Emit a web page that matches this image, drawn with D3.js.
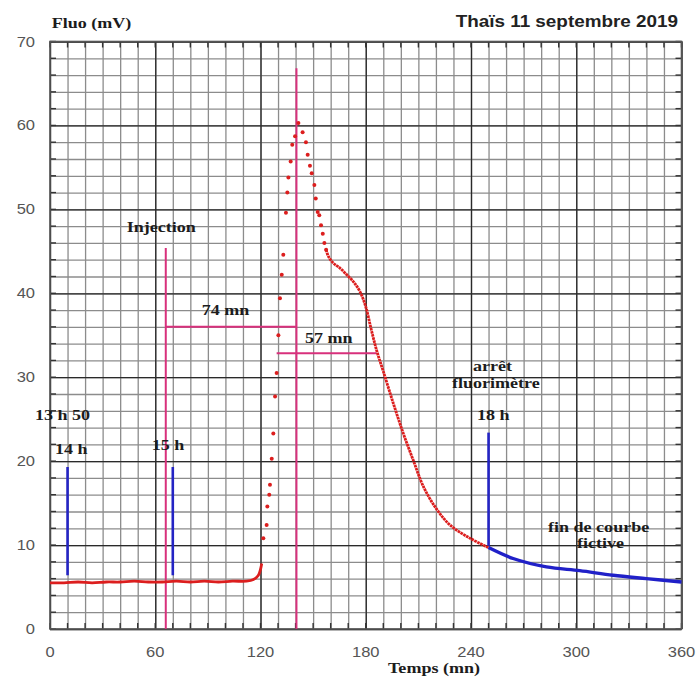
<!DOCTYPE html>
<html>
<head>
<meta charset="utf-8">
<script src="https://cdn.jsdelivr.net/npm/d3@7"></script>
<style>
  body { margin: 0; background: #fff; }
  .serif { font-family: "Liberation Serif", serif; font-weight: bold; font-size: 15.3px; fill: #1c1c1c; }
  .tick-label { font-family: "Liberation Sans", Arial, sans-serif; font-size: 14px; fill: #555; }
  .title { font-family: "Liberation Sans", Arial, sans-serif; font-weight: bold; font-size: 16px; fill: #222; }
  .grid line { stroke: #8c8c8c; stroke-width: 1.3; }
  .grid-major line { stroke: #2a2a2a; stroke-width: 1.3; }
  .grid path, .grid-major path { display: none; }
</style>
</head>
<body>
<div id="chart"></div>
<script>
// tick labels
const xTicks = [0, 60, 120, 180, 240, 300, 360];
const yTicks = [0, 10, 20, 30, 40, 50, 60, 70];

// baseline before the tracer arrives (mn, mV)
const baseTime = [0, 8, 16, 24, 32, 40, 48, 56, 64, 72, 80, 88, 96, 104, 112, 116, 118.8, 120.7];
const baseFluo = [5.5, 5.5, 5.6, 5.5, 5.6, 5.6, 5.7, 5.6, 5.6, 5.7, 5.6, 5.7, 5.6, 5.7, 5.7, 5.9, 6.4, 7.8];

// rise and peak, sparse points
const peakTime = [121.6, 123.5, 123.9, 125.0, 125.4, 126.4, 127.3, 128.3, 129.2, 130.2, 131.1, 132.1, 133.0,
  134.5, 135.3, 135.9, 137.2, 138.1, 139.7, 141.6, 144.0, 145.9, 146.9, 148.2, 149.2, 150.7, 151.5,
  152.6, 153.5, 154.5, 155.5, 156.4, 157.4];
const peakFluo = [10.8, 12.4, 14.6, 16.0, 17.2, 20.3, 23.3, 27.7, 30.5, 35.0, 39.4, 42.2, 44.6,
  49.6, 52.0, 53.8, 55.7, 57.7, 58.7, 60.3, 59.2, 58.0, 56.5, 55.2, 54.3, 52.9, 51.3,
  49.7, 49.3, 48.1, 47.1, 46.0, 45.2];

// recession, dense points
const tailTime = [157.4, 158.7, 161.5, 165.3, 169.2, 172.9, 176.7, 180.0, 183.0, 186.2, 190.0, 195.7,
  201.4, 207.1, 212.8, 220.0, 228.0, 239.5, 250.0];
const tailFluo = [45.2, 44.4, 43.6, 43.0, 42.2, 41.4, 40.2, 38.4, 35.8, 33.2, 30.7, 26.9,
  23.3, 20.1, 17.0, 14.4, 12.4, 10.8, 9.7];

// extrapolated end of curve
const fictiveTime = [250, 264, 283, 302, 321, 340, 360];
const fictiveFluo = [9.7, 8.4, 7.4, 6.95, 6.4, 6.0, 5.6];

// annotation lines, in data units
const magentaV = [{ t: 66, v0: 0, v1: 45.4 }, { t: 140.5, v0: 0, v1: 66.8 }];
const magentaH = [{ v: 36, t0: 66, t1: 140.5 }, { v: 32.85, t0: 129.2, t1: 186.2 }];
const blueV = [{ t: 10, v0: 6.4, v1: 19.3 }, { t: 70, v0: 6.4, v1: 19.3 }, { t: 250, v0: 9.9, v1: 23.4 }];

const width = 696, height = 677;
const STRETCH = 1.18;

const svg = d3.select("#chart").append("svg")
  .attr("width", width)
  .attr("height", height);

const x = d3.scaleLinear().domain([0, 360]).range([50, 681.5]);
const y = d3.scaleLinear().domain([0, 70]).range([629, 41.5]);

// grid
svg.append("g").attr("class", "grid")
  .attr("transform", `translate(0,${y(0)})`)
  .call(d3.axisBottom(x).tickValues(d3.range(0, 361, 10)).tickSize(-(y(0) - y(70))).tickFormat(""));
svg.append("g").attr("class", "grid")
  .attr("transform", `translate(${x(0)},0)`)
  .call(d3.axisLeft(y).tickValues(d3.range(0, 71, 2)).tickSize(-(x(360) - x(0))).tickFormat(""));
svg.append("g").attr("class", "grid-major")
  .attr("transform", `translate(0,${y(0)})`)
  .call(d3.axisBottom(x).tickValues(xTicks).tickSize(-(y(0) - y(70))).tickFormat(""));
svg.append("g").attr("class", "grid-major")
  .attr("transform", `translate(${x(0)},0)`)
  .call(d3.axisLeft(y).tickValues(yTicks).tickSize(-(x(360) - x(0))).tickFormat(""));

// small inner ticks on the four sides
const tk = svg.append("g").attr("stroke", "#333").attr("stroke-width", 1.4);
d3.range(0, 361, 10).forEach(t => {
  tk.append("line").attr("x1", x(t)).attr("x2", x(t)).attr("y1", y(0)).attr("y2", y(0) - 6);
  tk.append("line").attr("x1", x(t)).attr("x2", x(t)).attr("y1", y(70)).attr("y2", y(70) + 6);
});
d3.range(0, 71, 2).forEach(v => {
  tk.append("line").attr("x1", x(0)).attr("x2", x(0) + 6).attr("y1", y(v)).attr("y2", y(v));
  tk.append("line").attr("x1", x(360)).attr("x2", x(360) - 6).attr("y1", y(v)).attr("y2", y(v));
});

svg.append("rect")
  .attr("x", x(0)).attr("y", y(70))
  .attr("width", x(360) - x(0)).attr("height", y(0) - y(70))
  .attr("fill", "none").attr("stroke", "#555").attr("stroke-width", 1.6);

// text stretched like the original
function label(px, py, str, cls, anchor) {
  svg.append("text")
    .attr("class", cls)
    .attr("text-anchor", anchor || "start")
    .attr("transform", `translate(${px},${py}) scale(${STRETCH},1)`)
    .text(str);
}

xTicks.forEach(t => label(x(t), 657, t, "tick-label", "middle"));
yTicks.forEach(v => label(35, y(v) + 5, v, "tick-label", "end"));

// annotation lines
magentaV.forEach(d => svg.append("line")
  .attr("x1", x(d.t)).attr("x2", x(d.t)).attr("y1", y(d.v0)).attr("y2", y(d.v1))
  .attr("stroke", "#d8307c").attr("stroke-width", 2));
magentaH.forEach(d => svg.append("line")
  .attr("x1", x(d.t0)).attr("x2", x(d.t1)).attr("y1", y(d.v)).attr("y2", y(d.v))
  .attr("stroke", "#d8307c").attr("stroke-width", 2));
blueV.forEach(d => svg.append("line")
  .attr("x1", x(d.t)).attr("x2", x(d.t)).attr("y1", y(d.v0)).attr("y2", y(d.v1))
  .attr("stroke", "#2424c4").attr("stroke-width", 2.6));

// data
const line = d3.line()
  .x(d => x(d[0]))
  .y(d => y(d[1]))
  .curve(d3.curveCatmullRom);

svg.append("path")
  .datum(d3.zip(baseTime, baseFluo))
  .attr("fill", "none").attr("stroke", "#dc1e1e").attr("stroke-width", 2.8)
  .attr("d", line);

svg.append("path")
  .datum(d3.zip(tailTime, tailFluo))
  .attr("fill", "none").attr("stroke", "#dc1e1e").attr("stroke-width", 2.8)
  .attr("stroke-dasharray", "2.6,0.6")
  .attr("d", line);

svg.append("g").selectAll("circle")
  .data(d3.zip(peakTime, peakFluo))
  .join("circle")
  .attr("cx", d => x(d[0]))
  .attr("cy", d => y(d[1]))
  .attr("r", 2)
  .attr("fill", "#dc1e1e");

svg.append("path")
  .datum(d3.zip(fictiveTime, fictiveFluo))
  .attr("fill", "none").attr("stroke", "#2020c8").attr("stroke-width", 3.4)
  .attr("d", line);

// texts
label(51.7, 28, "Fluo (mV)", "serif");
label(678, 27, "Thaïs 11 septembre 2019", "title", "end");
label(126.7, 232, "Injection", "serif");
label(201.7, 315, "74 mn", "serif");
label(305, 343, "57 mn", "serif");
label(35, 420, "13 h 50", "serif");
label(55, 454, "14 h", "serif");
label(151.7, 450, "15 h", "serif");
label(473, 371, "arrêt", "serif");
label(452, 388, "fluorimètre", "serif");
label(477, 420, "18 h", "serif");
label(548, 532, "fin de courbe", "serif");
label(577, 548, "fictive", "serif");
label(388, 673, "Temps (mn)", "serif");
</script>
</body>
</html>
